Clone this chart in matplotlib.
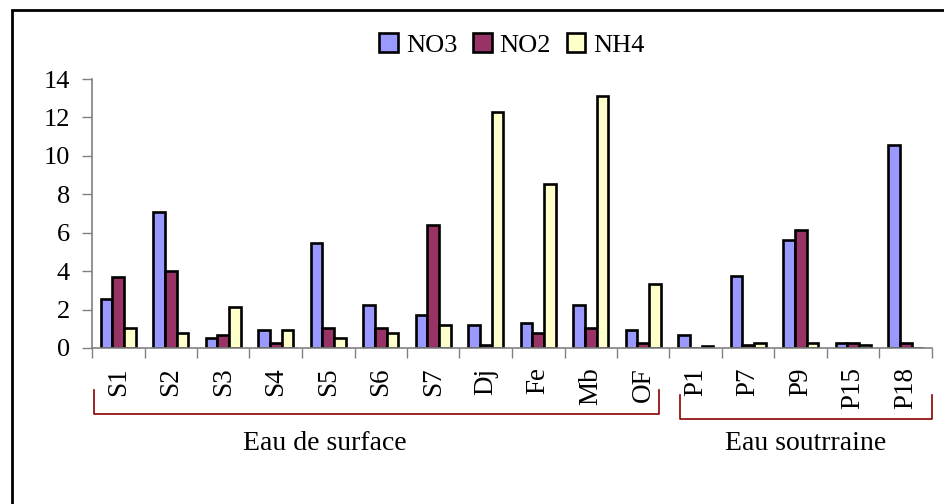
import numpy as np
import matplotlib
matplotlib.use("Agg")
import matplotlib.pyplot as plt
from matplotlib.lines import Line2D
from matplotlib.patches import Rectangle

# sampling sites and measured concentrations
sites = ["S1", "S2", "S3", "S4", "S5", "S6", "S7", "Dj", "Fe", "Mb", "OF",
         "P1", "P7", "P9", "P15", "P18"]
no3 = [2.54, 7.06, 0.54, 0.92, 5.46, 2.26, 1.72, 1.18, 1.32, 2.26, 0.92,
       0.66, 3.74, 5.62, 0.26, 10.56]
no2 = [3.72, 4.0, 0.66, 0.24, 1.06, 1.06, 6.42, 0.14, 0.78, 1.06, 0.24,
       0.0, 0.14, 6.14, 0.26, 0.26]
nh4 = [1.06, 0.8, 2.14, 0.92, 0.54, 0.78, 1.18, 12.3, 8.56, 13.1, 3.34,
       0.12, 0.28, 0.24, 0.14, 0.0]
series_names = ["NO3", "NO2", "NH4"]
colors = ["#9999FF", "#993366", "#FFFFCC"]
yticks = [0, 2, 4, 6, 8, 10, 12, 14]
group_labels = ["Eau de surface", "Eau soutrraine"]

plt.rcParams['font.family'] = ['Liberation Serif', 'DejaVu Serif']

W, H = 944, 504
fig = plt.figure(figsize=(W / 100, H / 100), dpi=100)
ax = fig.add_axes([92 / W, 1 - 348 / H, 840 / W, 269 / H])

x = np.arange(len(sites))
bw = 1 / 4.5
for i, (vals, name, c) in enumerate(zip([no3, no2, nh4], series_names, colors)):
    ax.bar(x + (i - 1) * bw, vals, width=bw, color=c, edgecolor="black",
           linewidth=1.9, label=name)

ax.set_xlim(-0.5, len(sites) - 0.5)
ax.set_ylim(0, 14)
ax.set_yticks(yticks)
ax.set_yticklabels([str(v) for v in yticks], fontsize=19)
ax.tick_params(axis="y", length=7, width=1, color="#808080", pad=9)

# boundaries as major ticks, labels on minor ticks at centres
ax.set_xticks(np.arange(len(sites) + 1) - 0.5)
ax.set_xticklabels([])
ax.tick_params(axis="x", which="major", length=7, width=1, color="#808080")
ax.set_xticks(x, minor=True)
ax.set_xticklabels(sites, minor=True, rotation=90, fontsize=19.5)
ax.tick_params(axis="x", which="minor", length=0, pad=14)

for s in ["top", "right"]:
    ax.spines[s].set_visible(False)
for s in ["left", "bottom"]:
    ax.spines[s].set_color("#808080")
    ax.spines[s].set_linewidth(1.2)

fig.legend(loc="center", bbox_to_anchor=(512 / W, 1 - 45 / H), ncol=3,
           frameon=False, fontsize=19, handlelength=0.7, handleheight=0.7,
           handletextpad=0.3, columnspacing=0.6)


def px(xp, yp):
    return xp / W, 1 - yp / H


bracket_color = "#8B0000"
for (x0, x1, ytop, ybot) in [(94, 659, 390, 414), (680, 932, 395, 419)]:
    xs = [x0, x0, x1, x1]
    ys = [ytop, ybot, ybot, ytop]
    pts = [px(a, b) for a, b in zip(xs, ys)]
    fig.add_artist(Line2D([p[0] for p in pts], [p[1] for p in pts],
                          color=bracket_color, linewidth=1.2))

fig.text(*px(325, 444), group_labels[0], ha="center", va="center", fontsize=20)
fig.text(*px(806, 444), group_labels[1], ha="center", va="center", fontsize=20)

# outer frame (right and bottom edges fall outside the image)
x0, y0 = px(12, 10)
fig.add_artist(Rectangle((x0, -0.1), 1.2, y0 + 0.1,
                         transform=fig.transFigure, fill=False,
                         edgecolor="black", linewidth=2))

fig.savefig("out.png", dpi=100)
